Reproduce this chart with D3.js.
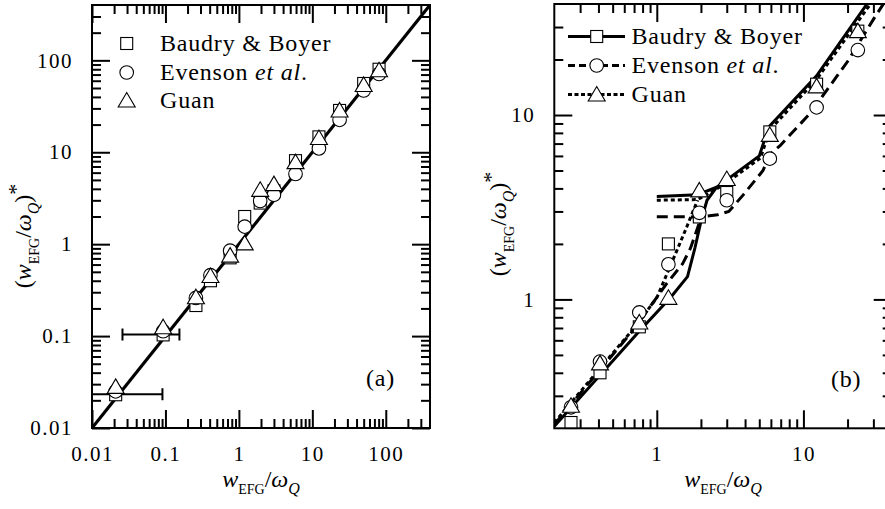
<!DOCTYPE html>
<html>
<head>
<meta charset="utf-8">
<script src="https://cdn.jsdelivr.net/npm/d3@7"></script>
<style>
  html, body { margin: 0; padding: 0; background: #fff; }
  svg { display: block; }
  text { font-family: "Liberation Serif", "Times New Roman", serif; fill: #000; }
</style>
</head>
<body>
<svg id="chart" width="885" height="509"></svg>
<script>
// ---------------- DATA ----------------
const xVals   = [0.021, 0.093, 0.26, 0.41, 0.76, 1.2, 1.95, 3.0, 5.9, 12.3, 23.5, 50, 81];
const baudry  = [0.023, 0.103, 0.215, 0.40, 0.71, 2.0, 2.8, 3.8, 8.1, 14.7, 28.5, 56, 80];
const evenson = [0.025, 0.113, 0.26, 0.46, 0.85, 1.55, 2.95, 3.45, 5.8, 11.0, 22.5, 47, 71];
const guan    = [0.028, 0.125, 0.265, 0.45, 0.75, 1.02, 3.9, 4.5, 7.8, 14.3, 28.5, 54, 78];

// horizontal error bars, panel (a)
const errY  = [0.104, 0.0233];
const errLo = [0.026, 0.008];
const errHi = [0.155, 0.091];

// identity line, panel (a)
const diagX = [0.01, 400];

// model curves, panel (b): [x, y] pairs, lower and upper branches
const baudryLow  = [[0.2,0.205],[0.77,0.68],[1.25,1.03],[1.62,1.33],[1.82,1.9],[2.0,2.65],[2.2,3.45],[2.56,4.06]];
const baudryUp   = [[1.0,3.62],[1.9,3.7],[2.56,4.06],[3.0,4.45],[5.0,6.0],[5.8,8.6],[12.3,16.3],[27,39.8],[40,58]];
const evensonLow = [[0.2,0.21],[0.69,0.68],[1.17,1.22],[1.5,1.56],[1.7,1.9],[1.95,2.6],[2.05,2.8]];
const evensonUp  = [[1.0,2.81],[2.0,2.8],[2.6,2.88],[3.1,3.0],[3.9,3.7],[5.3,5.0],[5.9,6.1],[6.9,6.8],[11.1,10.2],[20,19.5],[30,33],[40,47]];
const guanLow    = [[0.2,0.215],[0.7,0.7],[1.0,1.02],[1.37,1.84],[1.6,2.47],[1.78,3.05],[1.9,3.45]];
const guanUp     = [[1.0,3.45],[1.9,3.48],[2.4,3.85],[3.0,4.3],[5.1,5.85],[5.9,8.3],[12.3,15.6],[27,37.5],[40,56]];

// ticks
const majA = [0.01, 0.1, 1, 10, 100];
const minA = [0.02,0.03,0.04,0.05,0.06,0.07,0.08,0.09,0.2,0.3,0.4,0.5,0.6,0.7,0.8,0.9,2,3,4,5,6,7,8,9,20,30,40,50,60,70,80,90,200,300];
const majB = [1, 10];
const minB = [0.3,0.4,0.5,0.6,0.7,0.8,0.9,2,3,4,5,6,7,8,9,20,30];
const labelsA = ["0.01", "0.1", "1", "10", "100"];
const labelsB = ["1", "10"];

const seriesNames = ["Baudry & Boyer", "Evenson", "Guan"];

// ---------------- SETUP ----------------
const svg = d3.select("#chart");
svg.append("rect").attr("width", 885).attr("height", 509).attr("fill", "#fff");

const xa = d3.scaleLog().domain([0.01, 400]).range([92, 430]);
const ya = d3.scaleLog().domain([0.01, 400]).range([428, 5]);
const xb = d3.scaleLog().domain([0.2, 40]).range([554.3, 891.7]);
const yb = d3.scaleLog().domain([0.2, 40]).range([428.3, 4]);

const defs = svg.append("defs");
function clip(id, x, y) {
  defs.append("clipPath").attr("id", id).append("rect")
    .attr("x", x.range()[0]).attr("y", y.range()[1])
    .attr("width", x.range()[1] - x.range()[0]).attr("height", y.range()[0] - y.range()[1]);
}
clip("clipA", xa, ya);
clip("clipB", xb, yb);

function drawAxes(x, y, maj, mins, labels) {
  const x0 = x.range()[0], x1 = x.range()[1], y0 = y.range()[0], y1 = y.range()[1];
  const fmt = d => { const i = maj.indexOf(d); return i >= 0 ? labels[i] : ""; };
  const styleAxis = g => {
    g.select(".domain").remove();
    g.selectAll("line").attr("stroke", "#000").attr("stroke-width", 2);
    g.selectAll("text").attr("font-size", 21).attr("letter-spacing", "1.5px")
      .attr("font-family", '"Liberation Serif", "Times New Roman", serif');
  };
  // bottom
  svg.append("g").attr("transform", `translate(0,${y0})`)
    .call(d3.axisBottom(x).tickValues(maj).tickSizeInner(-18).tickSizeOuter(0).tickPadding(18).tickFormat(fmt)).call(styleAxis);
  svg.append("g").attr("transform", `translate(0,${y0})`)
    .call(d3.axisBottom(x).tickValues(mins).tickSizeInner(-9).tickSizeOuter(0).tickFormat("")).call(styleAxis);
  // top
  svg.append("g").attr("transform", `translate(0,${y1})`)
    .call(d3.axisTop(x).tickValues(maj).tickSizeInner(-18).tickSizeOuter(0).tickFormat("")).call(styleAxis);
  svg.append("g").attr("transform", `translate(0,${y1})`)
    .call(d3.axisTop(x).tickValues(mins).tickSizeInner(-9).tickSizeOuter(0).tickFormat("")).call(styleAxis);
  // left
  svg.append("g").attr("transform", `translate(${x0},0)`)
    .call(d3.axisLeft(y).tickValues(maj).tickSizeInner(-18).tickSizeOuter(0).tickPadding(19).tickFormat(fmt)).call(styleAxis);
  svg.append("g").attr("transform", `translate(${x0},0)`)
    .call(d3.axisLeft(y).tickValues(mins).tickSizeInner(-9).tickSizeOuter(0).tickFormat("")).call(styleAxis);
  // right
  svg.append("g").attr("transform", `translate(${x1},0)`)
    .call(d3.axisRight(y).tickValues(maj).tickSizeInner(-18).tickSizeOuter(0).tickFormat("")).call(styleAxis);
  svg.append("g").attr("transform", `translate(${x1},0)`)
    .call(d3.axisRight(y).tickValues(mins).tickSizeInner(-9).tickSizeOuter(0).tickFormat("")).call(styleAxis);
  // frame
  svg.append("rect").attr("x", x0).attr("y", y1).attr("width", x1 - x0).attr("height", y0 - y1)
    .attr("fill", "none").attr("stroke", "#000").attr("stroke-width", 2);
}

function marker(g, type, cx, cy) {
  if (type === 0) {
    g.append("rect").attr("x", cx - 6).attr("y", cy - 6).attr("width", 12).attr("height", 12)
      .attr("fill", "#fff").attr("stroke", "#000").attr("stroke-width", 1.1);
  } else if (type === 1) {
    g.append("circle").attr("cx", cx).attr("cy", cy).attr("r", 6.8)
      .attr("fill", "#fff").attr("stroke", "#000").attr("stroke-width", 1.1);
  } else {
    g.append("path").attr("d", `M${cx},${cy - 8}L${cx + 8.5},${cy + 6.5}L${cx - 8.5},${cy + 6.5}Z`)
      .attr("fill", "#fff").attr("stroke", "#000").attr("stroke-width", 1.1);
  }
}

const allSeries = [baudry, evenson, guan];

// ---------------- PANEL (a) ----------------
const ga = svg.append("g");
const gaClip = ga.append("g").attr("clip-path", "url(#clipA)");
gaClip.append("line")
  .attr("x1", xa(diagX[0])).attr("y1", ya(diagX[0]))
  .attr("x2", xa(diagX[1])).attr("y2", ya(diagX[1]))
  .attr("stroke", "#000").attr("stroke-width", 3.2);
errY.forEach((yv, i) => {
  const yy = ya(yv), xl = xa(errLo[i]), xr = xa(errHi[i]);
  gaClip.append("line").attr("x1", xl).attr("x2", xr).attr("y1", yy).attr("y2", yy).attr("stroke", "#000").attr("stroke-width", 2);
  [xl, xr].forEach(xx => gaClip.append("line").attr("x1", xx).attr("x2", xx).attr("y1", yy - 6).attr("y2", yy + 6).attr("stroke", "#000").attr("stroke-width", 2));
});
[0, 1, 2].forEach(s => {
  xVals.forEach((xv, i) => marker(ga, s, xa(xv), ya(allSeries[s][i])));
});
drawAxes(xa, ya, majA, minA, labelsA);

// legend (a)
const legA = svg.append("g");
const legARows = [43.5, 72.5, 100.5];
[0, 1, 2].forEach(s => marker(legA, s, 126.7, legARows[s]));
function legendText(g, x, y, s) {
  const t = g.append("text").attr("x", x).attr("y", y).attr("font-size", 24).attr("letter-spacing", "0.8px");
  if (s === 1) {
    t.append("tspan").text("Evenson ");
    t.append("tspan").attr("font-style", "italic").text("et al");
    t.append("tspan").text(".");
  } else {
    t.text(seriesNames[s]);
  }
}
[0, 1, 2].forEach(s => legendText(legA, 160, legARows[s] + 7.5, s));

svg.append("text").attr("x", 366).attr("y", 386).attr("font-size", 24).attr("letter-spacing", "0.8px").text("(a)");

// ---------------- PANEL (b) ----------------
const gb = svg.append("g");
const gbClip = gb.append("g").attr("clip-path", "url(#clipB)");
const lineB = d3.line().x(d => xb(d[0])).y(d => yb(d[1]));
const dashes = [null, "11,6", "4,3"];
const curves = [[baudryLow, baudryUp], [evensonLow, evensonUp], [guanLow, guanUp]];
curves.forEach((c, s) => {
  c.forEach(branch => {
    gbClip.append("path").attr("d", lineB(branch)).attr("fill", "none")
      .attr("stroke", "#000").attr("stroke-width", 3)
      .attr("stroke-dasharray", dashes[s]);
  });
});
[0, 1, 2].forEach(s => {
  xVals.forEach((xv, i) => {
    if (xv >= 0.2 && xv <= 40) marker(gb, s, xb(xv), yb(allSeries[s][i]));
  });
});
drawAxes(xb, yb, majB, minB, labelsB);

// legend (b)
const legB = svg.append("g");
const legBRows = [36.5, 65.5, 94.5];
[0, 1, 2].forEach(s => {
  legB.append("line").attr("x1", 568).attr("x2", 625).attr("y1", legBRows[s]).attr("y2", legBRows[s])
    .attr("stroke", "#000").attr("stroke-width", 3).attr("stroke-dasharray", s === 1 ? "7,4" : (s === 2 ? "4,2.5" : null));
  marker(legB, s, 596.7, legBRows[s]);
  legendText(legB, 631.5, legBRows[s] + 7.5, s);
});

svg.append("text").attr("x", 831).attr("y", 387).attr("font-size", 24).attr("letter-spacing", "0.8px").text("(b)");

// ---------------- AXIS TITLES ----------------
function xTitle(cx, y) {
  const t = svg.append("text").attr("x", cx).attr("y", y).attr("text-anchor", "middle").attr("font-size", 24);
  t.append("tspan").attr("font-style", "italic").text("w");
  t.append("tspan").attr("font-size", 14).attr("dy", 7).text("EFG");
  t.append("tspan").attr("dy", -7).text("/");
  t.append("tspan").attr("font-style", "italic").text("ω");
  t.append("tspan").attr("font-style", "italic").attr("font-size", 16).attr("dy", 7).text("Q");
}
function yTitle(x, cy) {
  const t = svg.append("text").attr("transform", `translate(${x},${cy}) rotate(-90)`)
    .attr("text-anchor", "middle").attr("font-size", 24);
  t.append("tspan").text("(");
  t.append("tspan").attr("font-style", "italic").text("w");
  t.append("tspan").attr("font-size", 14).attr("dy", 8).text("EFG");
  t.append("tspan").attr("dy", -8).text("/");
  t.append("tspan").attr("font-style", "italic").text("ω");
  t.append("tspan").attr("font-style", "italic").attr("font-size", 16).attr("dy", 8).text("Q");
  t.append("tspan").attr("dy", -8).text(")");
  t.append("tspan").attr("font-size", 22).attr("dy", -8).text("*");
}
xTitle(261, 487);
xTitle(723, 487);
yTitle(31, 236);
yTitle(506, 224);
</script>
</body>
</html>
